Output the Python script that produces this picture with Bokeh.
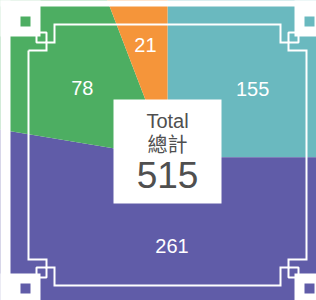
import math
from bokeh.plotting import figure
from bokeh.models import Range1d, ColumnDataSource
from bokeh.core.properties import value
from bokeh.embed import file_html
from bokeh.resources import INLINE

# ---------------- data ----------------
slice_values = [155, 261, 78, 21]
slice_colors = ["#6ab9bf", "#605ca8", "#4dae62", "#f5953a"]
# angular sweep of each slice as drawn in the reference (degrees, clockwise from 12 o'clock)
slice_sweep_deg = [90.0, 189.4, 59.6, 21.0]
total_title = "Total"
total_title_zh = "總計"
total_value = sum(slice_values)

# ---------------- layout ----------------
W, H = 316, 300
label_r = [109, 89, 110, 114]
label_frac = [0.57, 0.46, 0.5, 0.47]


def sy(y):
    """screen y (page px) -> data y"""
    return H - y


p = figure(width=W, height=H, x_range=Range1d(0, W), y_range=Range1d(0, H),
           output_backend="svg", toolbar_location=None, min_border=0,
           x_axis_location=None, y_axis_location=None)
p.grid.visible = False
p.outline_line_color = None
p.background_fill_color = "white"
p.border_fill_color = "white"

# pie
cx, cy = 167.0, 156.7
starts, ends, lab_ang = [], [], []
cum = 0.0
for s, f in zip(slice_sweep_deg, label_frac):
    starts.append(math.radians(90 - cum))
    ends.append(math.radians(90 - cum - s))
    lab_ang.append(cum + s * f)
    cum += s
src = ColumnDataSource(dict(start=starts, end=ends, color=slice_colors,
                            label=[str(v) for v in slice_values]))
p.wedge(x=cx, y=sy(cy), radius=450, start_angle="start", end_angle="end",
        direction="clock", fill_color="color", line_color=None, source=src)

# outer shape: notched square (white cut-outs)
L, T, R, B = 10, 6, 324, 303
big = 1000


def notch(x0, x1, y0, y1, hx0, hx1, hy0, hy1):
    return ([[[x0, x1, x1, x0], [hx0, hx1, hx1, hx0]]],
            [[[sy(y0), sy(y0), sy(y1), sy(y1)], [sy(hy0), sy(hy0), sy(hy1), sy(hy1)]]])


nx, ny = [], []
for args in [
    (-big, L + 30, -big, T + 30, L + 10, L + 20, T + 10, T + 20),
    (R - 30, big, -big, T + 30, R - 20, R - 10, T + 10, T + 20),
    (-big, L + 30, B - 30, big, L + 10, L + 20, B - 20, B - 10),
    (R - 30, big, B - 30, big, R - 20, R - 10, B - 20, B - 10),
]:
    a, b = notch(*args)
    nx.append(a)
    ny.append(b)
p.multi_polygons(xs=nx, ys=ny, fill_color="white", line_color=None)
# strips outside the shape
p.quad(left=[-big, R, -big, -big], right=[L, big, big, big],
       bottom=[sy(big), sy(big), sy(big), sy(T)],
       top=[sy(-big), sy(-big), sy(B), sy(-big)], fill_color="white", line_color=None)

# decorative frame line
px = [L + 18, L + 36, L + 36, L + 44, L + 44,
      R - 44, R - 44, R - 36, R - 36, R - 18,
      R - 18, R - 36, R - 36, R - 44, R - 44,
      L + 44, L + 44, L + 36, L + 36, L + 18, L + 18]
py = [T + 44, T + 44, T + 36, T + 36, T + 18,
      T + 18, T + 36, T + 36, T + 44, T + 44,
      B - 44, B - 44, B - 36, B - 36, B - 18,
      B - 18, B - 36, B - 36, B - 44, B - 44, T + 44]
p.line(x=px, y=[sy(v) for v in py], line_color="white", line_width=2, line_join="miter")
p.quad(left=[L + 26, R - 36, R - 36, L + 26], right=[L + 36, R - 26, R - 26, L + 36],
       top=[sy(T + 26), sy(T + 26), sy(B - 36), sy(B - 36)],
       bottom=[sy(T + 36), sy(T + 36), sy(B - 26), sy(B - 26)],
       fill_color=None, line_color="white", line_width=2)

# slice labels
lx = [cx + r * math.sin(math.radians(a)) for r, a in zip(label_r, lab_ang)]
ly = [sy(cy - r * math.cos(math.radians(a))) for r, a in zip(label_r, lab_ang)]
src.data["lx"] = lx
src.data["ly"] = ly
p.text(x="lx", y="ly", text="label", source=src, text_color="white",
       text_font=value("Liberation Sans"), text_font_size="20px",
       text_align="center", text_baseline="middle")

# centre box
p.quad(left=113, right=221, top=sy(99), bottom=sy(203), fill_color="white", line_color=None)
p.text(x=[167], y=[sy(120)], text=[total_title], text_color="#4f4f4f",
       text_font=value("Liberation Sans"), text_font_size="20px",
       text_align="center", text_baseline="middle")
p.text(x=[167], y=[sy(142.5)], text=[total_title_zh], text_color="#4f4f4f",
       text_font=value("Noto Sans CJK TC"), text_font_size="20px",
       text_align="center", text_baseline="middle")
p.text(x=[167], y=[sy(174)], text=[str(total_value)], text_color="#4f4f4f",
       text_font=value("Liberation Sans"), text_font_size="37px",
       text_align="center", text_baseline="middle")

open("out.html", "w").write(file_html(p, INLINE))
